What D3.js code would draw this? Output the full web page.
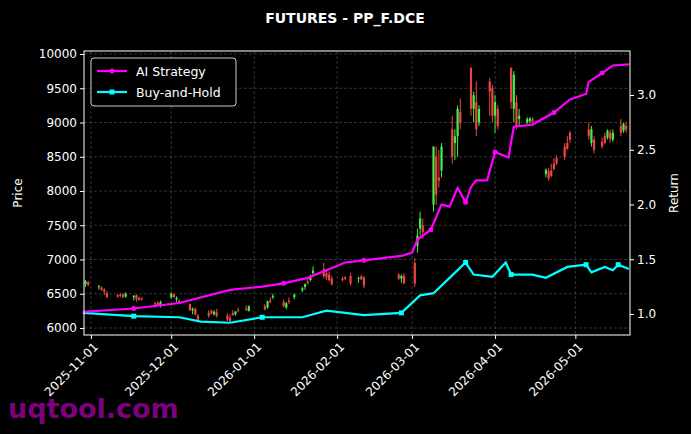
<!DOCTYPE html>
<html><head><meta charset="utf-8">
<script src="https://cdn.jsdelivr.net/npm/d3@7"></script>
<style>body{margin:0;background:#000}svg{font-family:"DejaVu Sans",sans-serif}</style>
</head><body><div id="chart"></div>
<script>
// candles: date open high low close
var candles = [
  ["2025-10-30",6640,6700,6600,6680],["2025-10-31",6670,6690,6610,6630],
  ["2025-11-04",6600,6630,6560,6610],["2025-11-05",6590,6610,6540,6560],
  ["2025-11-06",6560,6580,6480,6530],["2025-11-07",6510,6540,6440,6450],
  ["2025-11-11",6480,6500,6440,6460],["2025-11-12",6480,6510,6450,6470],
  ["2025-11-13",6490,6510,6440,6450],["2025-11-14",6460,6520,6440,6500],
  ["2025-11-17",6450,6480,6400,6470],["2025-11-18",6480,6490,6380,6420],
  ["2025-11-19",6440,6460,6400,6410],["2025-11-20",6430,6450,6400,6420],
  ["2025-11-25",6360,6380,6300,6340],["2025-11-26",6370,6390,6320,6330],
  ["2025-11-27",6320,6400,6300,6380],
  ["2025-12-01",6450,6520,6430,6500],["2025-12-02",6490,6510,6440,6450],
  ["2025-12-03",6420,6460,6380,6440],["2025-12-04",6400,6420,6350,6360],
  ["2025-12-08",6350,6360,6250,6260],["2025-12-09",6260,6300,6200,6280],
  ["2025-12-10",6280,6300,6180,6200],["2025-12-11",6180,6200,6100,6120],
  ["2025-12-15",6220,6260,6150,6180],["2025-12-16",6250,6270,6200,6210],
  ["2025-12-17",6200,6260,6180,6240],["2025-12-18",6230,6280,6150,6180],
  ["2025-12-22",6180,6220,6100,6120],["2025-12-23",6150,6200,6080,6100],
  ["2025-12-24",6220,6260,6180,6190],["2025-12-25",6200,6250,6180,6240],
  ["2025-12-26",6260,6300,6230,6250],["2025-12-29",6280,6330,6250,6260],
  ["2025-12-30",6250,6330,6240,6320],
  ["2026-01-05",6320,6350,6260,6270],["2026-01-06",6300,6400,6280,6390],
  ["2026-01-07",6400,6450,6360,6380],["2026-01-08",6450,6500,6420,6470],
  ["2026-01-12",6380,6420,6300,6320],["2026-01-13",6300,6380,6280,6360],
  ["2026-01-14",6400,6450,6350,6380],["2026-01-16",6450,6500,6420,6490],
  ["2026-01-19",6550,6600,6520,6580],["2026-01-20",6600,6650,6560,6640],
  ["2026-01-21",6680,6720,6640,6650],["2026-01-22",6700,6780,6680,6760],
  ["2026-01-23",6800,6900,6780,6840],
  ["2026-01-27",6860,6950,6720,6760],["2026-01-28",6800,6860,6700,6740],
  ["2026-01-29",6780,6820,6680,6700],["2026-01-30",6720,6760,6620,6640],
  ["2026-02-03",6720,6750,6680,6700],["2026-02-04",6740,6760,6700,6720],
  ["2026-02-06",6760,6800,6620,6650],
  ["2026-02-09",6720,6750,6660,6730],["2026-02-10",6750,6780,6700,6710],
  ["2026-02-11",6740,6760,6580,6620],
  ["2026-02-24",6780,6800,6700,6720],["2026-02-25",6720,6780,6660,6760],
  ["2026-02-26",6760,6800,6640,6650],
  ["2026-03-02",6950,7020,6600,6650],["2026-03-03",7200,7450,7100,7350],
  ["2026-03-04",7450,7700,7350,7600],["2026-03-05",7500,7600,7300,7400],
  ["2026-03-09",7800,8650,7700,8650],["2026-03-10",8500,8650,7800,7950],
  ["2026-03-11",8200,8600,8050,8150],["2026-03-12",8300,8700,8200,8650],
  ["2026-03-16",8900,9100,8400,8500],["2026-03-17",8700,8900,8450,8800],
  ["2026-03-18",8800,9250,8500,9200],["2026-03-19",9150,9350,8900,9000],
  ["2026-03-23",9800,9800,9100,9200],["2026-03-24",9200,9450,9000,9400],
  ["2026-03-25",9300,9600,8800,8900],["2026-03-26",9000,9250,8950,9200],
  ["2026-03-30",9600,9650,9100,9450],["2026-03-31",9500,9550,9000,9100],
  ["2026-04-01",9100,9400,8850,9300],["2026-04-02",9200,9250,8900,8950],
  ["2026-04-07",9800,9800,9200,9300],["2026-04-08",9200,9750,9000,9700],
  ["2026-04-09",9300,9400,8900,8950],["2026-04-10",9050,9200,8950,9100],
  ["2026-04-13",9000,9080,8980,9050],["2026-04-14",9020,9080,8990,9060],
  ["2026-04-15",9050,9080,8990,9010],
  ["2026-04-20",8250,8330,8200,8310],["2026-04-21",8290,8330,8150,8180],
  ["2026-04-22",8300,8400,8200,8220],["2026-04-23",8400,8480,8300,8320],
  ["2026-04-24",8480,8520,8380,8400],["2026-04-27",8650,8700,8450,8500],
  ["2026-04-28",8700,8800,8600,8620],["2026-04-29",8850,8880,8700,8750],
  ["2026-05-06",8900,9000,8750,8800],["2026-05-07",8700,8950,8650,8900],
  ["2026-05-08",8750,8800,8550,8600],["2026-05-11",8720,8780,8620,8650],
  ["2026-05-12",8800,8850,8680,8700],["2026-05-13",8780,8900,8750,8880],
  ["2026-05-14",8850,8900,8700,8760],["2026-05-15",8750,8900,8720,8850],
  ["2026-05-18",8950,9050,8800,8850],["2026-05-19",8880,9000,8850,8980],
  ["2026-05-20",8950,9000,8850,8900]
];

var aiDates = ["2025-10-29","2025-11-17","2025-12-04","2025-12-23","2026-01-04","2026-01-12","2026-01-21","2026-01-28","2026-02-04","2026-02-11","2026-02-25","2026-03-01","2026-03-03","2026-03-08","2026-03-12","2026-03-15","2026-03-18","2026-03-21","2026-03-23","2026-03-25","2026-03-29","2026-04-01","2026-04-06","2026-04-08","2026-04-15","2026-04-23","2026-04-29","2026-05-05","2026-05-06","2026-05-11","2026-05-15","2026-05-21"];
var aiValues = [1.02,1.05,1.10,1.22,1.25,1.28,1.33,1.40,1.47,1.49,1.53,1.56,1.68,1.77,2.00,1.98,2.15,2.02,2.16,2.22,2.22,2.48,2.43,2.71,2.73,2.84,2.96,3.01,3.12,3.20,3.27,3.28];

var bhDates = ["2025-10-29","2025-11-17","2025-12-04","2025-12-12","2025-12-23","2026-01-04","2026-01-19","2026-01-28","2026-02-11","2026-02-25","2026-03-04","2026-03-09","2026-03-15","2026-03-21","2026-03-24","2026-03-31","2026-04-05","2026-04-07","2026-04-15","2026-04-20","2026-04-28","2026-05-05","2026-05-07","2026-05-12","2026-05-15","2026-05-17","2026-05-21"];
var bhValues = [1.01,0.98,0.97,0.93,0.92,0.97,0.97,1.03,0.99,1.01,1.17,1.19,1.33,1.47,1.36,1.34,1.47,1.36,1.36,1.33,1.43,1.45,1.38,1.43,1.40,1.45,1.41];

var priceTicks = [6000,6500,7000,7500,8000,8500,9000,9500,10000];
var returnTicks = [1.0,1.5,2.0,2.5,3.0];
var monthTicks = ["2025-11-01","2025-12-01","2026-01-01","2026-02-01","2026-03-01","2026-04-01","2026-05-01"];

var W = 691, H = 434, L = 84, R = 630, T = 51, B = 335;
var parse = d3.timeParse("%Y-%m-%d");
var svg = d3.select("#chart").append("svg").attr("width", W).attr("height", H);
svg.append("rect").attr("width", W).attr("height", H).attr("fill", "#000");

var x = d3.scaleTime().domain([new Date(2025,9,29,10), new Date(2026,4,21,10)]).range([L, R]);
var y = d3.scaleLinear().domain([5898, 10044]).range([B, T]);
var y2 = d3.scaleLinear().domain([0.808, 3.402]).range([B, T]);

// grid
var grid = svg.append("g").attr("stroke", "#555").attr("stroke-dasharray", "3,2").attr("stroke-width", 0.6);
priceTicks.forEach(function(t){ grid.append("line").attr("x1", L).attr("x2", R).attr("y1", y(t)).attr("y2", y(t)); });
monthTicks.forEach(function(t){ grid.append("line").attr("y1", T).attr("y2", B).attr("x1", x(parse(t))).attr("x2", x(parse(t))); });

var plot = svg.append("g");
// candles
candles.forEach(function(c){
  var cx = x(parse(c[0])), col = c[4] >= c[1] ? "#44ee44" : "#ee4444";
  plot.append("line").attr("x1", cx).attr("x2", cx).attr("y1", y(c[2])).attr("y2", y(c[3])).attr("stroke", col).attr("stroke-width", 1);
  plot.append("rect").attr("x", cx - 1.1).attr("width", 2.2)
    .attr("y", y(Math.max(c[1], c[4]))).attr("height", Math.max(1, Math.abs(y(c[1]) - y(c[4])))).attr("fill", col);
});

function drawLine(dates, vals, col, marker) {
  var pts = dates.map(function(d, i){ return [x(parse(d)), y2(vals[i])]; });
  plot.append("path").attr("d", d3.line()(pts)).attr("fill", "none").attr("stroke", col).attr("stroke-width", 2.2);
  pts.forEach(function(p, i){
    if (i % 4 != 1) return;
    if (marker == "c") plot.append("circle").attr("cx", p[0]).attr("cy", p[1]).attr("r", 2.5).attr("fill", col);
    else plot.append("rect").attr("x", p[0]-2.5).attr("y", p[1]-2.5).attr("width", 5).attr("height", 5).attr("fill", col);
  });
}
drawLine(bhDates, bhValues, "#00ffff", "s");
drawLine(aiDates, aiValues, "#ff00ff", "c");

svg.append("rect").attr("x", L).attr("y", T).attr("width", R - L).attr("height", B - T).attr("fill", "none").attr("stroke", "#fff").attr("stroke-width", 1);

// axes
var ax = svg.append("g").attr("transform", "translate(0," + B + ")")
  .call(d3.axisBottom(x).tickValues(monthTicks.map(parse)).tickFormat(d3.timeFormat("%Y-%m-%d")).tickSize(4));
ax.selectAll("text").attr("transform", "rotate(-45)").attr("text-anchor", "end").attr("dx", "-0.3em").attr("dy", "0.6em");
var ay = svg.append("g").attr("transform", "translate(" + L + ",0)").call(d3.axisLeft(y).tickValues(priceTicks).tickFormat(d3.format("d")).tickSize(4));
var ay2 = svg.append("g").attr("transform", "translate(" + R + ",0)").call(d3.axisRight(y2).tickValues(returnTicks).tickFormat(d3.format(".1f")).tickSize(4));
[ax, ay, ay2].forEach(function(a){
  a.select(".domain").remove();
  a.selectAll("line").attr("stroke", "#fff");
  a.selectAll("text").attr("fill", "#fff").attr("font-size", 12).attr("font-family", "DejaVu Sans");
});

svg.append("text").attr("x", 345).attr("y", 23).attr("text-anchor", "middle").attr("fill", "#fff")
  .attr("font-size", 14).attr("font-weight", "bold").text("FUTURES - PP_F.DCE");
svg.append("text").attr("transform", "translate(22,193) rotate(-90)").attr("text-anchor", "middle").attr("fill", "#fff").attr("font-size", 12).text("Price");
svg.append("text").attr("transform", "translate(678,193) rotate(-90)").attr("text-anchor", "middle").attr("fill", "#fff").attr("font-size", 12).text("Return");

// legend
var lg = svg.append("g");
lg.append("rect").attr("x", 91).attr("y", 58).attr("width", 145).attr("height", 48).attr("rx", 3)
  .attr("fill", "#000").attr("stroke", "#ccc");
[["AI Strategy", "#ff00ff", "c", 71], ["Buy-and-Hold", "#00ffff", "s", 92]].forEach(function(e){
  lg.append("line").attr("x1", 97).attr("x2", 127).attr("y1", e[3]).attr("y2", e[3]).attr("stroke", e[1]).attr("stroke-width", 2.2);
  if (e[2] == "c") lg.append("circle").attr("cx", 112).attr("cy", e[3]).attr("r", 2.5).attr("fill", e[1]);
  else lg.append("rect").attr("x", 109.5).attr("y", e[3]-2.5).attr("width", 5).attr("height", 5).attr("fill", e[1]);
  lg.append("text").attr("x", 136).attr("y", e[3] + 4.5).attr("fill", "#fff").attr("font-size", 12.5).text(e[0]);
});

svg.append("text").attr("x", 8).attr("y", 418).attr("fill", "#8b008b").attr("font-size", 27).attr("font-weight", "bold")
  .attr("opacity", 0.9).text("uqtool.com");
</script></body></html>
